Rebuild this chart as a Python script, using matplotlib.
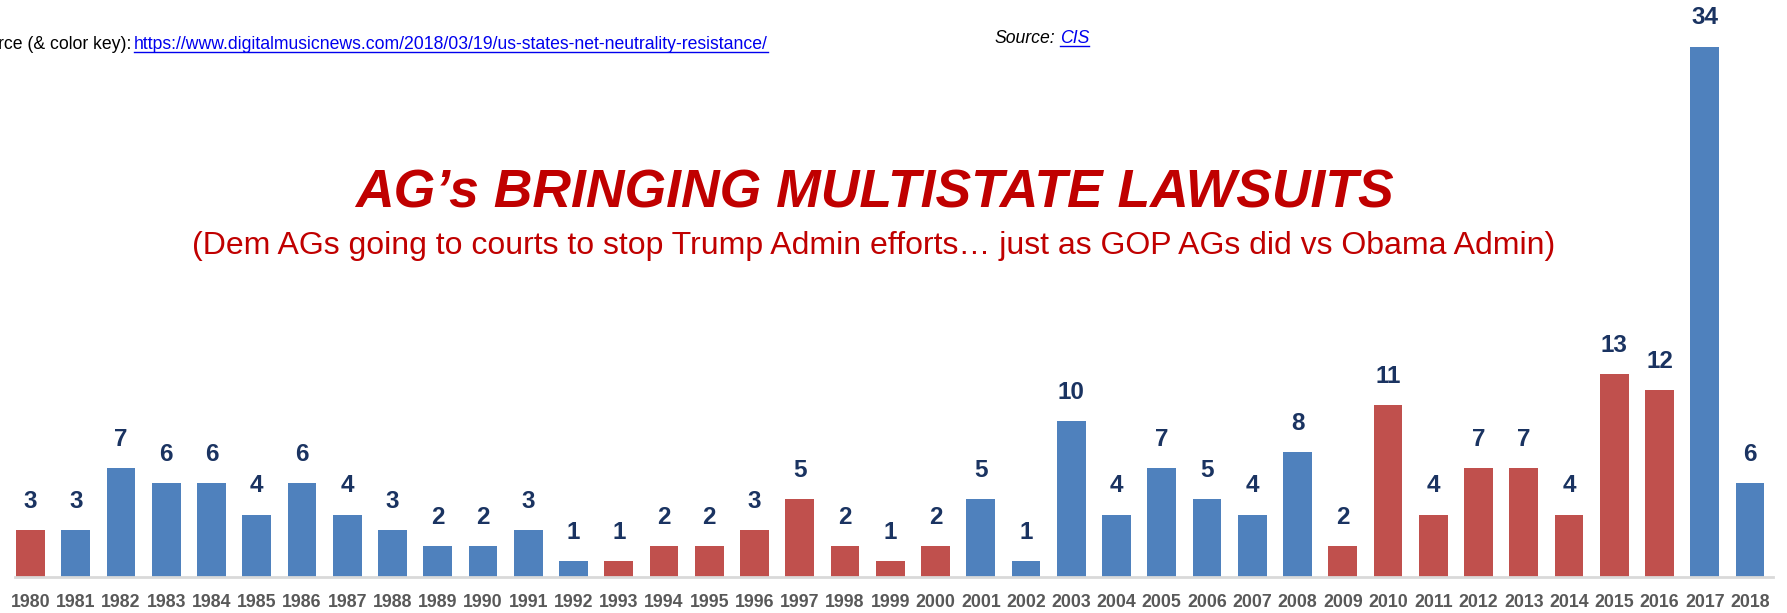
import matplotlib
matplotlib.use("Agg")
import matplotlib.pyplot as plt
import numpy as np

# data
years = [str(y) for y in range(1980, 2019)]
lawsuits = [3, 3, 7, 6, 6, 4, 6, 4, 3, 2, 2, 3, 1, 1, 2, 2, 3, 5, 2, 1, 2,
            5, 1, 10, 4, 7, 5, 4, 8, 2, 11, 4, 7, 7, 4, 13, 12, 34, 6]
party = ['R', 'B', 'B', 'B', 'B', 'B', 'B', 'B', 'B', 'B', 'B', 'B', 'B',
         'R', 'R', 'R', 'R', 'R', 'R', 'R', 'R',
         'B', 'B', 'B', 'B', 'B', 'B', 'B', 'B',
         'R', 'R', 'R', 'R', 'R', 'R', 'R', 'R', 'B', 'B']

colors = {'B': '#4f81bd', 'R': '#c0504d'}
plt.rcParams['font.family'] = ['Liberation Sans', 'DejaVu Sans']

W, H = 1787, 613
fig = plt.figure(figsize=(W / 100, H / 100), dpi=100)

# axes placed so bars line up with the slide
base = 36
ax = fig.add_axes([0, base / H, 1, (H - base) / H])
x = np.arange(len(years))
step = 45.25
ax.bar(x, lawsuits, width=0.63, color=[colors[p] for p in party], zorder=2)
ax.set_xlim(-30.5 / step, (W - 30.5) / step)
ax.set_ylim(0, (H - base) / 15.6)

for xi, v in zip(x, lawsuits):
    ax.text(xi, v + 1.1, str(v), ha='center', va='bottom', fontsize=17.5,
            fontweight='bold', color='#1a3361')

for s in ['top', 'left', 'right']:
    ax.spines[s].set_visible(False)
ax.spines['bottom'].set_color('#d9d9d9')
ax.spines['bottom'].set_linewidth(2)
ax.spines['bottom'].set_bounds(-0.34, 38.5)
ax.set_yticks([])
ax.set_xticks(x)
ax.set_xticklabels(years, fontsize=12.8, fontweight='bold', color='#595959')
ax.tick_params(axis='x', length=0, pad=12)

# titles
fig.text(0.4891, 1 - 193 / H, 'AG\u2019s BRINGING MULTISTATE LAWSUITS',
         ha='center', va='center', fontsize=38.5, fontweight='bold',
         fontstyle='italic', color='#c00000')
fig.text(0.4891, 1 - 246 / H,
         '(Dem AGs going to courts to stop Trump Admin efforts\u2026 just as GOP AGs did vs Obama Admin)',
         ha='center', va='center', fontsize=23, color='#c00000')

# source lines
fs = 12.7
fig.text(131 / W, 1 - 49 / H, 'rce (& color key):', ha='right', va='baseline',
         fontsize=fs, color='black')
link = fig.text(134 / W, 1 - 49 / H,
                'https://www.digitalmusicnews.com/2018/03/19/us-states-net-neutrality-resistance/',
                ha='left', va='baseline', fontsize=fs, color='#0000ee')
src = fig.text(994 / W, 1 - 43 / H, 'Source:', ha='left', va='baseline',
               fontsize=fs, fontstyle='italic', color='black')

fig.canvas.draw()
r = fig.canvas.get_renderer()
sb = src.get_window_extent(r).transformed(fig.transFigure.inverted())
cis = fig.text(sb.x1 + 5 / W, 1 - 43 / H, 'CIS', ha='left', va='baseline',
               fontsize=fs, fontstyle='italic', color='#0000ee')

# underline the links
fig.canvas.draw()
for t, yb in [(link, 49), (cis, 43)]:
    bb = t.get_window_extent(r).transformed(fig.transFigure.inverted())
    yl = 1 - (yb + 3) / H
    fig.add_artist(plt.Line2D([bb.x0, bb.x1], [yl, yl], color='#0000ee',
                              lw=1.0, transform=fig.transFigure))

fig.savefig('out.png', dpi=100)
